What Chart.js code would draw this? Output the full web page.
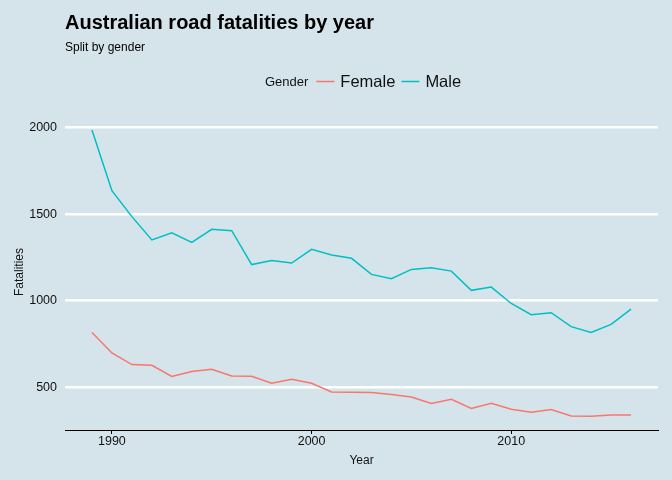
<!DOCTYPE html>
<html>
<head>
<meta charset="utf-8">
<script src="https://cdn.jsdelivr.net/npm/chart.js@4"></script>
<style>
  html, body { margin: 0; padding: 0; background: #d5e4eb; }
  #wrap { width: 672px; height: 480px; }
</style>
</head>
<body>
<div id="wrap"><canvas id="roadChart" width="672" height="480"></canvas></div>
<script>
const years = [1989, 1990, 1991, 1992, 1993, 1994, 1995, 1996, 1997, 1998, 1999, 2000, 2001, 2002,
               2003, 2004, 2005, 2006, 2007, 2008, 2009, 2010, 2011, 2012, 2013, 2014, 2015, 2016];
const female = [816, 698, 631, 627, 562, 591, 604, 565, 563, 523, 546, 523, 473, 471,
                469, 458, 444, 406, 431, 377, 408, 373, 356, 371, 334, 333, 340, 339];
const male = [1987, 1636, 1486, 1351, 1393, 1337, 1413, 1405, 1209, 1232, 1218, 1297, 1264, 1245,
              1152, 1127, 1181, 1190, 1171, 1060, 1079, 984, 919, 931, 850, 817, 863, 952];
const yTicks = [500, 1000, 1500, 2000];
const xTicks = [1990, 2000, 2010];

const FONT = '"Liberation Sans", Arial, sans-serif';
const femaleColor = '#F8766D';
const maleColor = '#00BFC4';

// title, subtitle and the inline ggplot-style legend
const decorations = {
    id: 'decorations',
    afterDraw(chart) {
        const c = chart.ctx;
        c.save();
        c.fillStyle = '#000';
        c.textBaseline = 'middle';
        c.textAlign = 'left';
        c.font = 'bold 20px ' + FONT;
        c.fillText('Australian road fatalities by year', 65, 23);
        c.font = '12px ' + FONT;
        c.fillText('Split by gender', 65, 48);

        c.font = '13px ' + FONT;
        c.fillStyle = '#111';
        c.fillText('Gender', 265, 82);
        let x = 265 + c.measureText('Gender').width + 8;
        const items = [['Female', femaleColor], ['Male', maleColor]];
        items.forEach(([name, col]) => {
            c.strokeStyle = col;
            c.lineWidth = 1.5;
            c.beginPath();
            c.moveTo(x, 81.5);
            c.lineTo(x + 18, 81.5);
            c.stroke();
            x += 24;
            c.font = '16.5px ' + FONT;
            c.fillStyle = '#111';
            c.fillText(name, x, 82);
            x += c.measureText(name).width + 6;
        });
        c.restore();
    }
};

new Chart(document.getElementById('roadChart').getContext('2d'), {
    type: 'line',
    data: {
        datasets: [{
            label: 'Female',
            data: years.map((y, i) => ({x: y, y: female[i]})),
            borderColor: femaleColor,
            borderWidth: 1.5,
            pointRadius: 0,
            fill: false,
            tension: 0
        }, {
            label: 'Male',
            data: years.map((y, i) => ({x: y, y: male[i]})),
            borderColor: maleColor,
            borderWidth: 1.5,
            pointRadius: 0,
            fill: false,
            tension: 0
        }]
    },
    options: {
        responsive: false,
        animation: false,
        layout: { padding: { left: 12, top: 114, right: 14, bottom: 12 } },
        plugins: {
            legend: { display: false },
            tooltip: { enabled: false }
        },
        scales: {
            x: {
                type: 'linear',
                min: 1987.65,
                max: 2017.35,
                afterBuildTicks: (s) => { s.ticks = xTicks.map(v => ({value: v})); },
                afterFit: (s) => { s.height = 38; },
                grid: { drawOnChartArea: false, drawTicks: true, tickLength: 4, color: '#000', lineWidth: 1 },
                border: { display: true, color: '#000', width: 1 },
                ticks: {
                    color: '#111',
                    font: { family: FONT, size: 12.5 },
                    padding: 0,
                    maxRotation: 0,
                    callback: (v) => String(v)
                },
                title: {
                    display: true,
                    text: 'Year',
                    color: '#111',
                    font: { family: FONT, size: 12 },
                    padding: { top: 0, bottom: 0 }
                }
            },
            y: {
                min: 253,
                max: 2079,
                afterBuildTicks: (s) => { s.ticks = yTicks.map(v => ({value: v})); },
                afterFit: (s) => { s.width = 53; },
                grid: { color: '#ffffff', lineWidth: 2.5, drawTicks: false },
                border: { display: false },
                ticks: {
                    color: '#111',
                    font: { family: FONT, size: 12.5 },
                    padding: 8,
                    callback: (v) => String(v)
                },
                title: {
                    display: true,
                    text: 'Fatalities',
                    color: '#111',
                    font: { family: FONT, size: 12 },
                    padding: { bottom: 0, top: 0 }
                }
            }
        }
    },
    plugins: [decorations]
});
</script>
</body>
</html>
